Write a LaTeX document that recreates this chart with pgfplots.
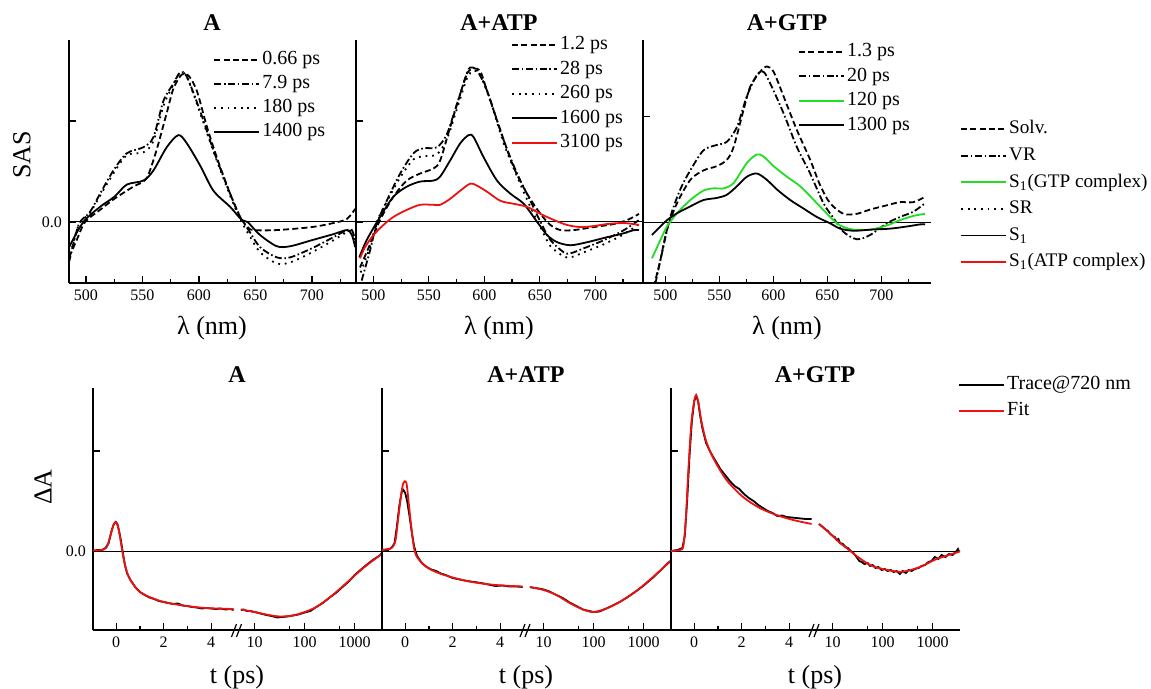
\documentclass[border=0pt]{standalone}
\usepackage{fontspec}
\setmainfont{Liberation Serif}
\usepackage{pgfplots}
\pgfplotsset{compat=1.18}
\definecolor{fitred}{HTML}{EE1111}
\definecolor{cgreen}{HTML}{22DD22}

\tikzset{
  dsh/.style={dash pattern=on 3pt off 1.6pt},
  ddot/.style={dash pattern=on 3.5pt off 1.3pt on 0.8pt off 1.3pt},
  dt/.style={dash pattern=on 0.9pt off 2.4pt},
}
\pgfplotsset{
  kbase/.style={
    scale only axis, anchor=south west,
    axis x line=bottom, axis y line=left,
    axis line style={-, line width=0.8pt},
    tick align=inside, major tick length=3.5pt, minor tick length=2pt,
    every tick/.append style={black, line width=0.6pt},
    ticklabel style={font=\fontsize{8}{8}\selectfont},
    /pgf/number format/assume math mode=true,
    every axis plot/.append style={line width=0.9pt},
  },
  kleg/.style={
    legend cell align=left,
    legend style={draw=none, fill=none, font=\fontsize{10}{10}\selectfont,
      inner sep=0pt, row sep=0.5pt, anchor=north west,
      nodes={inner sep=1pt, text height=7.2pt, text depth=2.3pt}},
    legend image code/.code={\draw[line width=0.9pt, ##1] (0pt,0pt) -- (22.5pt,0pt);},
  },
  ksas/.style={kbase, kleg, width=143.5pt, height=121.5pt,
    xtick={500,550,...,700}, minor xtick={525,575,...,725},
    ytick={0,1}, yticklabels={}},
  klin/.style={kbase, width=71.5pt, height=121pt,
    xmin=-0.98, xmax=5.05, ymin=-0.79, ymax=1.63,
    xtick={0,2,4}, minor xtick={1,3}, ytick={0,1}, yticklabels={}},
  klog/.style={kbase, axis y line=none, width=73pt, height=121pt,
    xmin=4.23, xmax=3516, ymin=-0.79, ymax=1.63,
    xtick={10,100,1000}, xticklabels={10,100,1000}, minor xtick={50,500},
    ytick=\empty},
}

\begin{document}
\begin{tikzpicture}
\useasboundingbox (0,0) rectangle (575.5pt,-344.5pt);

% ---------- top row: SAS ----------
\begin{axis}[ksas, at={(34.5pt,-141.5pt)}, xmin=485, xmax=739,
    ymin=-0.604, ymax=1.802, yticklabels={0.0,{}},
    legend style={at={(axis description cs:0.502,0.967)}}]
  \addplot[forget plot, line width=0.5pt] coordinates {(485,0) (739,0)};
  \addplot[dsh, smooth] coordinates {(485,-0.35) (491.8,-0.18) (499.2,0.0)
    (512.5,0.12) (525.2,0.23) (542.0,0.35) (550.8,0.40) (555.3,0.47)
    (562.7,0.72) (571.5,1.08) (577.4,1.32) (584.8,1.46) (590.7,1.45)
    (598.1,1.30) (606.9,0.95) (615.8,0.64) (627.6,0.28) (636.5,0.05)
    (643.0,-0.05) (648.3,-0.08) (668.9,-0.08) (700.0,-0.05) (719.1,-0.01)
    (730.9,0.03) (738.3,0.13)};
  \addlegendentry{0.66 ps}
  \addplot[ddot, smooth] coordinates {(485,-0.40) (490.3,-0.15) (494.7,0.0)
    (503.6,0.10) (512.5,0.28) (524.3,0.51) (536.1,0.68) (550.8,0.74)
    (559.7,0.84) (568.6,1.20) (577.4,1.37) (583.3,1.48) (589.2,1.44)
    (601.0,1.10) (612.8,0.71) (627.6,0.28) (636.5,0.05) (643.9,-0.08)
    (654.2,-0.25) (668.9,-0.35) (680.8,-0.35) (700.0,-0.26) (719.1,-0.15)
    (730.9,-0.08) (735.4,-0.08) (738.3,-0.18)};
  \addlegendentry{7.9 ps}
  \addplot[dt, smooth] coordinates {(485,-0.38) (490,-0.15) (495,0.0)
    (503.6,0.09) (512.5,0.26) (524.3,0.48) (536.1,0.66) (550.8,0.69)
    (559.7,0.80) (568.6,1.15) (577.4,1.36) (583.3,1.47) (589.2,1.44)
    (601.0,1.08) (612.8,0.70) (627.6,0.26) (636.5,0.03) (643.9,-0.12)
    (654.2,-0.30) (668.9,-0.41) (680.8,-0.40) (700.0,-0.30) (719.1,-0.18)
    (730.9,-0.10) (735.4,-0.09) (738.3,-0.20)};
  \addlegendentry{180 ps}
  \addplot[black, smooth] coordinates {(485,-0.25) (497.7,0.0) (512.5,0.15)
    (525.2,0.25) (536.1,0.37) (550.8,0.41) (559.7,0.51) (571.5,0.74)
    (581.8,0.86) (589.2,0.78) (601.0,0.56) (612.8,0.31) (627.6,0.15)
    (637.9,0.02) (643.0,0.0) (654.2,-0.13) (668.9,-0.24) (680.8,-0.24)
    (700.0,-0.18) (719.1,-0.12) (730.9,-0.08) (735.4,-0.13) (738.3,-0.25)};
  \addlegendentry{1400 ps}
\end{axis}

\begin{axis}[ksas, at={(178pt,-141.5pt)}, xmin=484.3, xmax=743,
    ymin=-0.604, ymax=1.802,
    legend style={at={(axis description cs:0.540,1.03)}, row sep=0.75pt}]
  \addplot[forget plot, line width=0.5pt] coordinates {(484.3,0) (743,0)};
  \addplot[dsh, smooth] coordinates {(487.9,-0.45) (497.0,-0.22) (506.0,0.02)
    (518.0,0.25) (530.1,0.41) (542.1,0.48) (554.2,0.53) (560.2,0.61)
    (569.2,0.94) (578.3,1.27) (584.3,1.47) (590.3,1.52) (596.4,1.49)
    (602.4,1.30) (614.4,0.91) (626.5,0.54) (638.5,0.28) (650.6,0.08)
    (659.6,-0.03) (668.6,-0.08) (680.7,-0.08) (698.8,-0.05) (716.8,-0.02)
    (728.9,0.02) (739.4,0.08)};
  \addlegendentry{1.2 ps}
  \addplot[ddot, smooth] coordinates {(489.4,-0.58) (497.0,-0.28) (503.0,-0.02)
    (512.0,0.21) (524.1,0.48) (536.1,0.68) (545.1,0.73) (557.2,0.74)
    (566.2,0.87) (575.3,1.17) (584.3,1.47) (587.3,1.53) (593.3,1.50)
    (602.4,1.30) (617.4,0.81) (629.5,0.48) (641.5,0.21) (650.6,0.0)
    (659.6,-0.18) (671.6,-0.30) (677.7,-0.31) (689.7,-0.26) (707.8,-0.18)
    (725.9,-0.08) (739.4,0.02)};
  \addlegendentry{28 ps}
  \addplot[dt, smooth] coordinates {(488.5,-0.50) (497.0,-0.24) (503.0,0.0)
    (512.0,0.20) (524.1,0.44) (536.1,0.62) (545.1,0.65) (557.2,0.67)
    (566.2,0.82) (575.3,1.12) (584.3,1.42) (590.3,1.50) (596.4,1.45)
    (605.4,1.20) (617.4,0.78) (629.5,0.45) (641.5,0.15) (650.6,-0.05)
    (659.6,-0.24) (671.6,-0.34) (677.7,-0.35) (689.7,-0.30) (707.8,-0.22)
    (725.9,-0.12) (739.4,-0.02)};
  \addlegendentry{260 ps}
  \addplot[black, smooth] coordinates {(487.3,-0.35) (493.9,-0.18) (506.0,0.05)
    (518.0,0.25) (530.1,0.35) (542.1,0.40) (554.2,0.41) (560.2,0.45)
    (569.2,0.61) (578.3,0.78) (585.8,0.86) (590.3,0.84) (599.4,0.64)
    (611.4,0.41) (623.5,0.28) (635.5,0.18) (647.6,0.0) (656.6,-0.13)
    (665.6,-0.20) (677.7,-0.23) (692.7,-0.20) (710.8,-0.15) (722.9,-0.12)
    (734.9,-0.08) (739.4,-0.08)};
  \addlegendentry{1600 ps}
  \addplot[fitred, smooth] coordinates {(487.9,-0.36) (492.4,-0.25) (500.0,-0.13)
    (509.0,-0.03) (518.0,0.05) (530.1,0.12) (542.1,0.17) (554.2,0.17)
    (560.2,0.17) (569.2,0.23) (578.3,0.31) (587.3,0.38) (593.3,0.36)
    (602.4,0.30) (614.4,0.21) (626.5,0.18) (638.5,0.15) (650.6,0.08)
    (662.6,0.02) (674.7,-0.03) (686.7,-0.05) (698.8,-0.04) (710.8,-0.02)
    (725.9,-0.01) (739.4,-0.03)};
  \addlegendentry{3100 ps}
\end{axis}

\begin{axis}[ksas, at={(321.5pt,-141.5pt)}, width=144pt, xmin=479.3, xmax=746,
    ymin=-0.573, ymax=1.72,
    legend style={at={(axis description cs:0.538,1.0)}, row sep=0.75pt}]
  \addplot[forget plot, line width=0.5pt] coordinates {(479.3,0) (746,0)};
  \addplot[dsh, smooth] coordinates {(489.2,-0.61) (495.3,-0.36) (501.5,-0.07)
    (510.8,0.18) (523.1,0.40) (535.4,0.49) (547.8,0.53) (557.0,0.59)
    (563.2,0.71) (572.4,1.06) (578.6,1.28) (587.8,1.42) (594.0,1.47)
    (600.2,1.42) (609.4,1.19) (621.8,0.87) (634.1,0.59) (643.3,0.35)
    (652.6,0.18) (664.9,0.08) (677.3,0.08) (689.6,0.12) (705.0,0.16)
    (717.3,0.19) (729.7,0.19) (740.5,0.24)};
  \addlegendentry{1.3 ps}
  \addplot[ddot, smooth] coordinates {(490.7,-0.58) (496.9,-0.29) (504.6,0.05)
    (513.8,0.31) (523.1,0.49) (535.4,0.68) (547.8,0.73) (557.0,0.76)
    (566.3,0.90) (575.5,1.19) (584.8,1.39) (590.9,1.42) (597.1,1.31)
    (609.4,1.03) (621.8,0.71) (634.1,0.46) (646.4,0.18) (655.7,0.04)
    (664.9,-0.09) (677.3,-0.16) (689.6,-0.12) (705.0,-0.01) (717.3,0.05)
    (729.7,0.10) (740.5,0.18)};
  \addlegendentry{20 ps}
  \addplot[cgreen, smooth] coordinates {(487.6,-0.34) (495.3,-0.17) (501.5,-0.04)
    (510.8,0.085) (523.1,0.21) (535.4,0.30) (544.7,0.32) (553.9,0.32)
    (563.2,0.37) (575.5,0.56) (584.8,0.64) (590.9,0.62) (600.2,0.53)
    (612.5,0.43) (624.8,0.34) (640.3,0.18) (652.6,0.05) (661.8,-0.03)
    (674.2,-0.07) (689.6,-0.07) (705.0,-0.03) (717.3,0.02) (729.7,0.06)
    (740.5,0.08)};
  \addlegendentry{120 ps}
  \addplot[black, smooth] coordinates {(487.6,-0.12) (495.3,-0.04) (501.5,0.02)
    (510.8,0.085) (523.1,0.15) (535.4,0.21) (547.8,0.23) (557.0,0.26)
    (566.3,0.34) (575.5,0.43) (584.8,0.46) (594.0,0.40) (603.3,0.31)
    (615.6,0.21) (627.9,0.13) (640.3,0.05) (652.6,-0.01) (661.8,-0.06)
    (674.2,-0.08) (689.6,-0.07) (708.1,-0.06) (723.5,-0.04) (735.9,-0.02)
    (740.5,-0.02)};
  \addlegendentry{1300 ps}
\end{axis}

% state legend
\begin{axis}[at={(0pt,-344.5pt)}, anchor=south west, scale only axis,
    width=575.5pt, height=344.5pt, hide axis, xmin=0, xmax=1, ymin=0, ymax=1,
    kleg, legend style={at={(axis description cs:0.834,0.830)}, row sep=1.8pt,
      font=\fontsize{9.6}{10}\selectfont}]
  \addlegendimage{black, dsh} \addlegendentry{Solv.}
  \addlegendimage{black, ddot} \addlegendentry{VR}
  \addlegendimage{cgreen} \addlegendentry{S\textsubscript{1}(GTP complex)}
  \addlegendimage{black, dt} \addlegendentry{SR}
  \addlegendimage{black} \addlegendentry{S\textsubscript{1}}
  \addlegendimage{fitred} \addlegendentry{S\textsubscript{1}(ATP complex)}
\end{axis}

% ---------- bottom row: kinetics ----------
% A
\begin{axis}[klin, at={(46.5pt,-315pt)}, yticklabels={0.0,{}}]
  \addplot[forget plot, line width=0.5pt] coordinates {(-0.98,0) (5.05,0)};
  \addplot[black] coordinates {(-0.98,0.0) (-0.8,0.01) (-0.6,0.01) (-0.45,0.03)
    (-0.32,0.08) (-0.2,0.2) (-0.1,0.27) (-0.02,0.29) (0.05,0.27) (0.12,0.2)
    (0.2,0.1) (0.28,-0.02) (0.36,-0.13) (0.45,-0.22) (0.6,-0.29) (0.8,-0.36)
    (1.0,-0.41) (1.2,-0.44) (1.4,-0.465) (1.6,-0.48) (1.8,-0.50) (2.0,-0.51)
    (2.2,-0.52) (2.4,-0.53) (2.6,-0.525) (2.8,-0.545) (3.0,-0.55) (3.2,-0.56)
    (3.4,-0.565) (3.6,-0.575) (3.8,-0.57) (4.0,-0.575) (4.2,-0.58) (4.4,-0.575)
    (4.6,-0.585) (4.8,-0.58) (4.95,-0.59)};
  \addplot[fitred, smooth] coordinates {(-0.98,0.005) (-0.6,0.01) (-0.4,0.04)
    (-0.25,0.15) (-0.1,0.27) (0,0.285) (0.1,0.22) (0.2,0.08) (0.3,-0.06)
    (0.4,-0.17) (0.55,-0.27) (0.8,-0.36) (1.0,-0.41) (1.4,-0.46) (2.0,-0.51)
    (2.8,-0.545) (3.5,-0.565) (4.2,-0.575) (4.95,-0.58)};
\end{axis}
\begin{axis}[klog, xmode=log, at={(118pt,-315pt)}]
  \addplot[forget plot, line width=0.5pt] coordinates {(4.23,0) (3516,0)};
  \addplot[black] coordinates {(5.3,-0.59) (6,-0.585) (7,-0.6) (8,-0.6)
    (10,-0.61) (13,-0.625) (17,-0.64) (22,-0.65) (28,-0.665) (35,-0.66)
    (45,-0.655) (58,-0.645) (75,-0.635) (100,-0.615) (130,-0.6) (170,-0.56)
    (230,-0.52) (316,-0.465) (420,-0.42) (585,-0.355) (780,-0.3) (1000,-0.24)
    (1300,-0.19) (1711,-0.14) (2300,-0.09) (3162,-0.045) (3500,-0.02)};
  \addplot[fitred, smooth] coordinates {(5.3,-0.585) (10,-0.61) (17,-0.635)
    (31.6,-0.655) (58,-0.645) (100,-0.61) (171,-0.56) (316,-0.465)
    (585,-0.35) (1000,-0.245) (1711,-0.145) (3162,-0.045) (3516,-0.03)};
\end{axis}

% A+ATP
\begin{axis}[klin, at={(191pt,-315pt)}]
  \addplot[forget plot, line width=0.5pt] coordinates {(-0.98,0) (5.05,0)};
  \addplot[black] coordinates {(-0.98,0.01) (-0.8,0.015) (-0.66,0.02)
    (-0.55,0.04) (-0.45,0.08) (-0.35,0.25) (-0.25,0.45) (-0.15,0.59)
    (-0.08,0.61) (0,0.58) (0.08,0.5) (0.18,0.35) (0.28,0.18) (0.38,0.04)
    (0.5,-0.05) (0.7,-0.12) (0.9,-0.16) (1.1,-0.185) (1.3,-0.2) (1.5,-0.225)
    (1.7,-0.24) (2.0,-0.27) (2.3,-0.285) (2.6,-0.3) (2.9,-0.31) (3.2,-0.32)
    (3.5,-0.335) (3.8,-0.35) (4.1,-0.345) (4.4,-0.355) (4.7,-0.355) (4.95,-0.36)};
  \addplot[fitred, smooth] coordinates {(-0.98,0.01) (-0.66,0.02) (-0.5,0.05)
    (-0.4,0.12) (-0.3,0.32) (-0.18,0.55) (-0.08,0.68) (0.05,0.68) (0.15,0.47)
    (0.25,0.25) (0.35,0.06) (0.45,-0.04) (0.7,-0.12) (1.0,-0.175) (1.4,-0.22)
    (2.0,-0.265) (2.7,-0.305) (3.4,-0.33) (4.1,-0.345) (4.95,-0.355)};
\end{axis}
\begin{axis}[klog, xmode=log, at={(262.5pt,-315pt)}]
  \addplot[forget plot, line width=0.5pt] coordinates {(4.23,0) (3516,0)};
  \addplot[black] coordinates {(5.3,-0.36) (6.5,-0.37) (8,-0.375) (10,-0.385)
    (13,-0.405) (18,-0.44) (24,-0.47) (33,-0.515) (45,-0.55) (61,-0.585)
    (80,-0.6) (100,-0.61) (130,-0.605) (179,-0.575) (240,-0.545) (331,-0.51)
    (480,-0.46) (713,-0.4) (1000,-0.345) (1538,-0.265) (2200,-0.19)
    (3210,-0.11) (3500,-0.1)};
  \addplot[fitred, smooth] coordinates {(5.3,-0.36) (10,-0.39) (18,-0.44)
    (33,-0.52) (61,-0.585) (100,-0.61) (179,-0.575) (331,-0.51) (713,-0.4)
    (1538,-0.26) (3210,-0.115) (3516,-0.1)};
\end{axis}

% A+GTP
\begin{axis}[klin, at={(335.5pt,-315pt)}]
  \addplot[forget plot, line width=0.5pt] coordinates {(-0.98,0) (5.05,0)};
  \addplot[black] coordinates {(-0.98,0.0) (-0.7,0.01) (-0.5,0.03) (-0.4,0.15)
    (-0.3,0.5) (-0.2,0.95) (-0.1,1.3) (0.0,1.5) (0.08,1.55) (0.16,1.5)
    (0.25,1.35) (0.35,1.22) (0.5,1.08) (0.7,0.98) (0.9,0.9) (1.1,0.82)
    (1.3,0.76) (1.5,0.7) (1.7,0.65) (1.9,0.62) (2.1,0.57) (2.3,0.53) (2.5,0.5)
    (2.7,0.46) (2.9,0.43) (3.1,0.4) (3.3,0.38) (3.5,0.35) (3.7,0.355)
    (3.9,0.34) (4.1,0.335) (4.3,0.33) (4.5,0.325) (4.7,0.32) (4.95,0.32)};
  \addplot[fitred, smooth] coordinates {(-0.98,0.0) (-0.6,0.01) (-0.46,0.05)
    (-0.36,0.3) (-0.25,0.8) (-0.12,1.28) (0.0,1.5) (0.08,1.56) (0.18,1.48)
    (0.3,1.3) (0.5,1.1) (0.8,0.93) (1.36,0.71) (2.06,0.54) (2.76,0.43)
    (3.47,0.36) (4.17,0.31) (4.95,0.27)};
\end{axis}
\begin{axis}[klog, xmode=log, at={(407pt,-315pt)}, kleg,
    legend style={at={(axis description cs:0.986,1.062)}, row sep=1.5pt}]
  \addplot[forget plot, line width=0.5pt] coordinates {(4.23,0) (3516,0)};
  \addplot[black] coordinates {(5.3,0.27) (6,0.25) (7,0.22) (8,0.2) (9,0.17)
    (10,0.15) (11,0.14) (12,0.11) (13,0.12) (14,0.08) (16,0.07) (18,0.04)
    (20,0.03) (23,0.0) (26,-0.02) (30,-0.06) (34,-0.1) (38,-0.11) (43,-0.13)
    (50,-0.12) (56,-0.15) (63,-0.14) (72,-0.17) (82,-0.16) (95,-0.19)
    (110,-0.18) (125,-0.2) (145,-0.19) (165,-0.21) (190,-0.2) (220,-0.23)
    (250,-0.2) (290,-0.22) (330,-0.19) (380,-0.2) (440,-0.18) (520,-0.17)
    (600,-0.15) (700,-0.14) (820,-0.11) (950,-0.1) (1100,-0.06) (1300,-0.08)
    (1500,-0.04) (1800,-0.06) (2100,-0.03) (2500,-0.04) (2900,-0.01)
    (3200,0.02) (3400,-0.01)};
  \addlegendentry{Trace@720 nm}
  \addplot[fitred, smooth] coordinates {(5.3,0.27) (7,0.22) (10,0.15) (14,0.08)
    (19,0.03) (30,-0.05) (56,-0.14) (100,-0.18) (222,-0.21) (302,-0.2)
    (558,-0.16) (1202,-0.08) (3260,-0.01) (3516,0.0)};
  \addlegendentry{Fit}
\end{axis}

% ---------- text and axis breaks ----------
\begin{scope}[x=0.5pt, y=-0.5pt]
  \foreach \px/\tt in {212/A, 499/A+ATP, 787/A+GTP}
    \node[font=\bfseries\fontsize{12}{12}\selectfont] at (\px,23) {\tt};
  \foreach \px/\tt in {237/A, 526/A+ATP, 815/A+GTP}
    \node[font=\bfseries\fontsize{12}{12}\selectfont] at (\px,375) {\tt};
  \foreach \px in {212, 499, 787}
    \node[font=\fontsize{13}{13}\selectfont] at (\px,328) {λ (nm)};
  \foreach \px in {237, 526, 815}
    \node[font=\fontsize{13}{13}\selectfont] at (\px,677) {t (ps)};
  \node[font=\fontsize{13}{13}\selectfont, rotate=90] at (22,155) {SAS};
  \node[font=\fontsize{13}{13}\selectfont, rotate=90] at (43,487) {ΔA};
  \foreach \bx in {236.5, 525, 814} {
    \draw[line width=0.6pt] (\bx-5,637) -- (\bx,624);
    \draw[line width=0.6pt] (\bx,637) -- (\bx+5,624);
  }
\end{scope}
\end{tikzpicture}
\end{document}
